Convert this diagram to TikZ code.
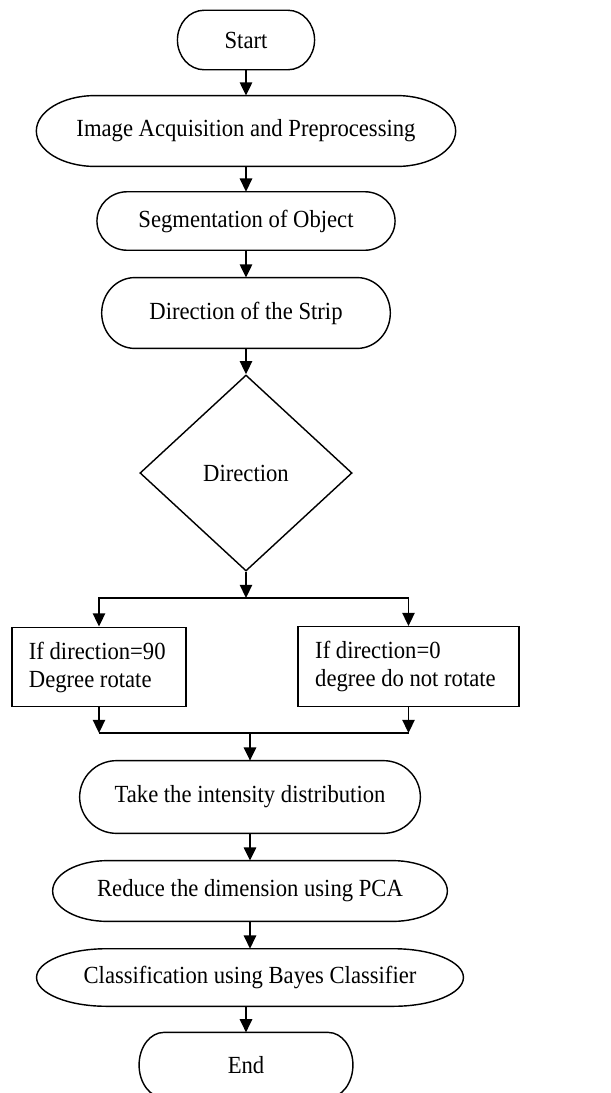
\documentclass[tikz,border=0pt]{standalone}
\usepackage{fontspec}
\setmainfont[FakeStretch=0.92]{Liberation Serif}
\usetikzlibrary{
    arrows.meta,
    calc,
    shapes.geometric
}
\tikzset{
    % Lines
    box line/.style={line width=0.75pt},
    arrow tip/.tip={Triangle[length=7pt,width=6.5pt]},
    arr/.style={-{arrow tip},line width=1.05pt},
    link/.style={line width=1.05pt},
    %
    % Nodes
    oval/.style 2 args={inner sep=0pt,minimum width=#1,minimum height=#2},
    decision/.style={diamond,draw,box line,inner sep=0pt,minimum width=112pt,minimum height=103.5pt},
    process/.style={rectangle,draw,box line,align=flush left,inner xsep=9pt,minimum height=42pt},
}
\tikzstyle{every node}=[font=\fontsize{13}{14.8}\selectfont]
% outline with half-ellipse ends: #1 node, #2 horizontal radius
\newcommand{\ovaloutline}[2]{%
    \draw[box line] let \p1=(#1.north east), \p2=(#1.south west), \n1={(\y1-\y2)/2} in
        (\x2+#2,\y1) -- (\x1-#2,\y1)
        arc[start angle=90,end angle=-90,x radius=#2,y radius=\n1]
        -- (\x2+#2,\y2)
        arc[start angle=270,end angle=90,x radius=#2,y radius=\n1] -- cycle;}

\begin{document}
\begin{tikzpicture}[x=0.528pt,y=-0.528pt]
        \useasboundingbox (0,0) rectangle (610,1093);
        \node[oval={72pt}{31pt}] (Start) at (246,40) {Start};
        \node[oval={221pt}{37pt}] (Acquisition) at (246,131) {Image Acquisition and Preprocessing};
        \node[oval={157pt}{30.5pt}] (Segmentation) at (246,221) {Segmentation of Object};
        \node[oval={152pt}{37pt}] (Strip) at (246,313) {Direction of the Strip};
        \node[decision] (Direction) at (246,473) {Direction};
        \node[process,text width=74pt] (Rotate) at (99,667) {If direction=90\\Degree rotate};
        \node[process,text width=98.5pt] (Keep) at (408.5,666.5) {If direction=0\\degree do not rotate};
        \node[oval={179.5pt}{38pt}] (Intensity) at (250,797) {Take the intensity distribution};
        \node[oval={208pt}{31.7pt}] (PCA) at (250,891) {Reduce the dimension using PCA};
        \node[oval={225pt}{30pt}] (Bayes) at (250,977.5) {Classification using Bayes Classifier};
        \node[oval={112.5pt}{34pt}] (End) at (246,1065) {End};
        \ovaloutline{Start}{14pt}
        \ovaloutline{Acquisition}{31pt}
        \ovaloutline{Segmentation}{16pt}
        \ovaloutline{Strip}{17.5pt}
        \ovaloutline{Intensity}{19.5pt}
        \ovaloutline{PCA}{29pt}
        \ovaloutline{Bayes}{37pt}
        \ovaloutline{End}{13pt}
        \coordinate (Split) at (246,598);
        \coordinate (Merge) at (250,733);
        \draw[arr] (Start) -- (Acquisition);
        \draw[arr] (Acquisition) -- (Segmentation);
        \draw[arr] (Segmentation) -- (Strip);
        \draw[arr] (Strip) -- (Direction);
        \draw[arr] (Direction) -- (Split);
        \draw[arr] (Split) -| (Rotate);
        \draw[arr] (Split) -| (Keep);
        \draw[arr] (Rotate) -- (Rotate |- Merge);
        \draw[arr] (Keep) -- (Keep |- Merge);
        \draw[link] (Rotate |- Merge) -- (Keep |- Merge);
        \draw[arr] (Merge) -- (Intensity);
        \draw[arr] (Intensity) -- (PCA);
        \draw[arr] (PCA) -- (Bayes);
        \draw[arr] (Bayes.south -| End.north) -- (End);
    \end{tikzpicture}
\end{document}
